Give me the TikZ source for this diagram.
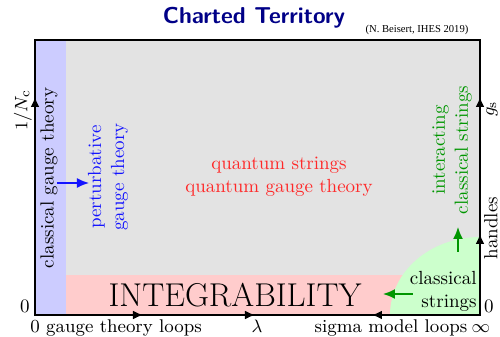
\documentclass[tikz,border=0pt]{standalone}
\usepackage{amsmath}
\usepackage{fontspec}
\usepackage{tikz}
\usetikzlibrary{arrows.meta,positioning}
\newfontfamily\creditfont{Liberation Serif}
\definecolor{ctGray}{RGB}{227,227,227}
\definecolor{ctBlue}{RGB}{204,204,255}
\definecolor{ctPink}{RGB}{255,204,204}
\definecolor{ctGreen}{RGB}{204,255,204}
\definecolor{ctNavy}{RGB}{0,0,135}
\definecolor{ctText}{RGB}{0,150,0}
\definecolor{ctRed}{RGB}{255,40,40}
\definecolor{ctPert}{RGB}{20,20,255}
\tikzset{
    ctLabel/.style={font=\fontsize{9.5}{11.5}\selectfont, align=center, inner sep=0pt},
    ctAxis/.style={font=\fontsize{9.2}{11}\selectfont, inner sep=0pt, anchor=base},
    ctFrameArrow/.style={line width=1.2pt, -{Latex[length=5pt, width=4.5pt]}},
    ctFlowArrow/.style={thick, -{Latex[length=6pt, width=5pt]}}
}

\begin{document}
\begin{tikzpicture}[x=0.5pt, y=0.5pt]
\useasboundingbox (0,0) rectangle (500,337);

% --- Title ---
\node[font=\fontsize{11.5}{14}\selectfont\sffamily\bfseries, text=ctNavy] (title) at (254,319) {Charted Territory};
\node[font=\fontsize{5.3}{6}\selectfont\creditfont] (credit) at (417,307) {(N. Beisert, IHES 2019)};

% --- Regions ---
\coordinate (sw) at (35,22);
\coordinate (ne) at (480,297);
\coordinate (se) at (480,22);
\coordinate (nw) at (35,297);
\fill[ctGray] (sw) rectangle (ne);
\fill[ctBlue] (sw) rectangle (66,297);
\fill[ctPink] (66,22) rectangle (480,62);
\fill[ctGreen] (se) -- (390,22) arc[start angle=180, end angle=90, x radius=45pt, y radius=39pt] -- cycle;

% --- Frame with axis arrows ---
\draw[line width=1.2pt] (sw) rectangle (ne);
\coordinate (nTip) at (35,240);
\coordinate (gTip) at (143,22);
\coordinate (lTip) at (255,22);
\coordinate (sTip) at (372,22);
\coordinate (gsTip) at (480,240);
\coordinate (hTip) at (480,103);
\draw[ctFrameArrow] (sw) -- (nTip);
\draw[ctFrameArrow] (sw) -- (gTip);
\draw[ctFrameArrow] (sw) -- (lTip);
\draw[ctFrameArrow] (se) -- (sTip);
\draw[ctFrameArrow] (se) -- (gsTip);
\draw[ctFrameArrow] (se) -- (hTip);

% --- Axis labels ---
\node[ctLabel] (zeroL) at (25,31) {0};
\node[ctLabel, rotate=90] (nc) at (23,227) {$1/N_{\mathrm{c}}$};
\node[ctAxis] (zeroB) at (35,4.5) {0};
\node[ctAxis] (gloops) at (124,4.5) {gauge theory loops};
\node[ctAxis] (lam) at (257,4.5) {$\lambda$};
\node[ctAxis] (sloops) at (391,4.5) {sigma model loops};
\node[ctAxis] (inf) at (481,4.5) {$\infty$};
\node[ctLabel] (zeroR) at (489,31) {0};
\node[ctLabel, rotate=90] (gs) at (492,228) {$g_{\mathrm{s}}$};
\node[ctLabel, rotate=90] (handles) at (491,109) {handles};

% --- Region labels ---
\node[ctLabel, rotate=90] (cgt) at (49,159) {classical gauge theory};
\node[ctLabel, rotate=90, text=ctPert] (pgt) at (108,160) {perturbative\\gauge theory};
\node[ctLabel, text=ctRed] (quantum) at (279,160) {quantum strings\\quantum gauge theory};
\node[font=\fontsize{16.5}{18}\selectfont, inner sep=0pt] (integ) at (235,41.5) {INTEGRABILITY};
\node[ctLabel, align=right, anchor=east] (cstr) at (477,46) {classical\\strings};
\node[ctLabel, rotate=90, text=ctText] (icstr) at (452,187) {interacting\\classical strings};

% --- Flow arrows ---
\coordinate (pFrom) at (57,154);
\coordinate (pTo) at (89,154);
\coordinate (cFrom) at (413,43);
\coordinate (cTo) at (383,43);
\coordinate (iFrom) at (458,85);
\coordinate (iTo) at (458,110);
\draw[ctFlowArrow, draw=ctPert] (pFrom) -- (pTo);
\draw[ctFlowArrow, draw=ctText] (cFrom) -- (cTo);
\draw[ctFlowArrow, draw=ctText] (iFrom) -- (iTo);

\end{tikzpicture}
\end{document}
